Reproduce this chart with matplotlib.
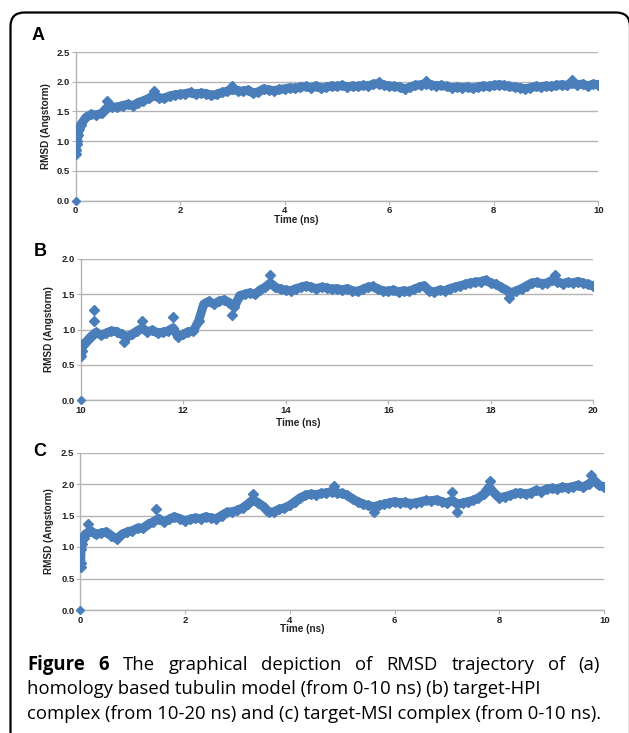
import numpy as np
import matplotlib.pyplot as plt
from matplotlib.patches import FancyBboxPatch

# ---- data (RMSD in Angstrom vs time in ns) ----
start_a_t = [0.005, 0.01, 0.02, 0.03, 0.05, 0.07]
start_a_r = [0.78, 0.85, 0.95, 1.0, 1.1, 1.2]
rmsd_a = [1.28, 1.40, 1.45, 1.44, 1.47, 1.56, 1.58, 1.57, 1.60, 1.62,
          1.60, 1.65, 1.68, 1.72, 1.77, 1.73, 1.72, 1.76, 1.78, 1.79,
          1.80, 1.82, 1.79, 1.81, 1.80, 1.77, 1.79, 1.82, 1.84, 1.87,
          1.85, 1.84, 1.86, 1.81, 1.83, 1.88, 1.86, 1.85, 1.87, 1.88,
          1.90, 1.89, 1.91, 1.92, 1.90, 1.93, 1.89, 1.91, 1.93, 1.92,
          1.94, 1.91, 1.93, 1.92, 1.94, 1.93, 1.96, 1.97, 1.94, 1.93,
          1.92, 1.91, 1.88, 1.91, 1.94, 1.95, 1.97, 1.95, 1.93, 1.94,
          1.92, 1.90, 1.91, 1.90, 1.91, 1.89, 1.91, 1.93, 1.92, 1.94,
          1.95, 1.94, 1.92, 1.91, 1.90, 1.88, 1.90, 1.92, 1.91, 1.93,
          1.92, 1.94, 1.95, 1.94, 1.98, 1.95, 1.96, 1.93, 1.96, 1.95]
spike_a_t = [1.5, 3.0, 5.8, 6.7, 9.5, 0.6]
spike_a_r = [1.85, 1.93, 2.0, 2.01, 2.03, 1.67]

start_b_t = [10.01, 10.02, 10.04, 10.06]
start_b_r = [0.62, 0.70, 0.78, 0.80]
rmsd_b = [0.82, 0.90, 0.96, 0.92, 0.95, 0.98, 0.97, 0.93, 0.90, 0.93,
          0.98, 1.02, 0.97, 0.99, 0.95, 0.96, 0.98, 1.02, 0.90, 0.93,
          0.97, 0.98, 1.12, 1.36, 1.40, 1.36, 1.40, 1.42, 1.38, 1.32,
          1.48, 1.50, 1.52, 1.50, 1.56, 1.60, 1.66, 1.60, 1.57, 1.56,
          1.55, 1.58, 1.60, 1.62, 1.60, 1.58, 1.60, 1.59, 1.57, 1.58,
          1.56, 1.58, 1.55, 1.54, 1.57, 1.60, 1.61, 1.57, 1.55, 1.54,
          1.56, 1.53, 1.55, 1.54, 1.57, 1.60, 1.62, 1.55, 1.53, 1.56,
          1.55, 1.58, 1.60, 1.62, 1.64, 1.66, 1.67, 1.68, 1.70, 1.66,
          1.64, 1.60, 1.56, 1.52, 1.55, 1.58, 1.62, 1.66, 1.67, 1.65,
          1.66, 1.70, 1.68, 1.65, 1.67, 1.66, 1.68, 1.66, 1.64, 1.62]
spike_b_t = [10.25, 10.26, 10.85, 11.2, 11.8, 12.95, 13.7, 18.35, 19.25]
spike_b_r = [1.27, 1.12, 0.82, 1.12, 1.18, 1.20, 1.78, 1.44, 1.78]

start_c_t = [0.01, 0.012, 0.02, 0.04, 0.07]
start_c_r = [0.68, 0.75, 0.97, 1.05, 1.15]
rmsd_c = [1.20, 1.26, 1.20, 1.22, 1.24, 1.18, 1.13, 1.20, 1.24, 1.26,
          1.30, 1.30, 1.36, 1.40, 1.45, 1.40, 1.44, 1.48, 1.45, 1.42,
          1.44, 1.46, 1.45, 1.48, 1.46, 1.45, 1.50, 1.55, 1.56, 1.58,
          1.62, 1.68, 1.75, 1.70, 1.64, 1.55, 1.56, 1.60, 1.62, 1.66,
          1.72, 1.78, 1.82, 1.84, 1.83, 1.85, 1.86, 1.88, 1.86, 1.85,
          1.82, 1.76, 1.72, 1.68, 1.66, 1.64, 1.66, 1.68, 1.70, 1.72,
          1.70, 1.71, 1.69, 1.70, 1.72, 1.74, 1.73, 1.75, 1.72, 1.70,
          1.74, 1.68, 1.70, 1.72, 1.74, 1.78, 1.84, 1.95, 1.86, 1.78,
          1.80, 1.82, 1.85, 1.86, 1.84, 1.86, 1.90, 1.88, 1.92, 1.93,
          1.92, 1.95, 1.94, 1.96, 1.98, 1.95, 2.00, 2.06, 1.98, 1.95]
spike_c_t = [0.15, 1.45, 3.3, 4.85, 5.6, 7.1, 7.2, 7.82, 9.75]
spike_c_r = [1.36, 1.60, 1.84, 1.97, 1.55, 1.87, 1.55, 2.05, 2.14]

caption_l1 = "The graphical depiction of RMSD trajectory of (a)"
caption_l2 = "homology based tubulin model (from 0-10 ns) (b) target-HPI"
caption_l3 = "complex (from 10-20 ns) and (c) target-MSI complex (from 0-10 ns)."

BLUE = '#4A7EBB'
GRID = '#b4b4b4'
W, H = 629, 733


def draw_panel(ax, t0, start_t, start_r, values, spike_t, spike_r, ymax, xticks):
    t = np.round(t0 + 0.1 * np.arange(1, len(values) + 1), 2)
    tt = np.concatenate([start_t, t])
    rr = np.concatenate([start_r, values])
    ax.plot(tt, rr, color=BLUE, lw=6.5, solid_joinstyle='round', solid_capstyle='round', zorder=3)
    ax.plot(tt, rr, 'D', color=BLUE, ms=5.5, zorder=3)
    ax.plot(spike_t, spike_r, 'D', color=BLUE, ms=5.5, zorder=3)
    ax.plot([t0], [0.0], 'D', color=BLUE, ms=4.5, zorder=4, clip_on=False)
    ax.set_xlim(t0, t0 + 10)
    ax.set_ylim(0, ymax)
    ax.set_xticks(xticks)
    ax.set_yticks(np.arange(0, ymax + 0.01, 0.5))
    ax.set_yticklabels(['%.1f' % v for v in np.arange(0, ymax + 0.01, 0.5)])
    ax.grid(axis='y', color=GRID, lw=1.0)
    ax.set_axisbelow(True)
    for s in ['top', 'right']:
        ax.spines[s].set_visible(False)
    for s in ['left', 'bottom']:
        ax.spines[s].set_color(GRID)
        ax.spines[s].set_linewidth(1.0)
    ax.tick_params(axis='both', colors=GRID, length=3, width=0.8, labelcolor='#222222',
                   labelsize=6.8, pad=1)
    for lab in ax.get_xticklabels() + ax.get_yticklabels():
        lab.set_fontweight('bold')
        lab.set_fontfamily('Liberation Sans')
    ax.set_xlabel('Time (ns)', fontsize=7.2, fontweight='bold', family='Liberation Sans', color='#222222')
    ax.set_ylabel('RMSD (Angstorm)', fontsize=7.2, fontweight='bold', family='Liberation Sans', color='#222222')


fig = plt.figure(figsize=(W / 100, H / 100), dpi=100)

# overlay in pixel coordinates for the frame, panel letters and caption
over = fig.add_axes([0, 0, 1, 1], zorder=-1)
over.set_xlim(0, W)
over.set_ylim(H, 0)
over.axis('off')
frame = FancyBboxPatch((10.5, 12.5), 619.5, 760, boxstyle='round,pad=0,rounding_size=14',
                       fc='white', ec='black', lw=1.6)
over.add_patch(frame)


def px_axes(left, top, right, bottom):
    return fig.add_axes([left / W, 1 - bottom / H, (right - left) / W, (bottom - top) / H])


ax_a = px_axes(75.5, 52, 598.3, 200.7)
draw_panel(ax_a, 0, start_a_t, start_a_r, rmsd_a, spike_a_t, spike_a_r, 2.5, [0, 2, 4, 6, 8, 10])
ax_b = px_axes(80.7, 259, 593.3, 400)
draw_panel(ax_b, 10, start_b_t, start_b_r, rmsd_b, spike_b_t, spike_b_r, 2.0, [10, 12, 14, 16, 18, 20])
ax_c = px_axes(80, 452.5, 604.3, 610)
draw_panel(ax_c, 0, start_c_t, start_c_r, rmsd_c, spike_c_t, spike_c_r, 2.5, [0, 2, 4, 6, 8, 10])

ax_a.xaxis.set_label_coords(0.422, -0.096)
ax_b.xaxis.set_label_coords(0.425, -0.128)
ax_c.xaxis.set_label_coords(0.423, -0.09)
ax_a.yaxis.set_label_coords(-0.047, 0.5)
ax_b.yaxis.set_label_coords(-0.052, 0.5)
ax_c.yaxis.set_label_coords(-0.050, 0.5)

for letter, (lx, ly) in zip('ABC', [(38.5, 36), (40, 251.5), (40, 451.5)]):
    over.text(lx, ly, letter, fontsize=13, fontweight='bold', family='Liberation Sans',
              ha='center', va='center')

# caption: size fitted so the last line spans the measured width, first line justified
renderer = fig.canvas.get_renderer()
left, right = 27, 600
probe = over.text(left, 719, caption_l3, fontsize=12, family='Open Sans', va='baseline', ha='left')
cap_size = 12 * 572 / probe.get_window_extent(renderer).width
probe.set_fontsize(cap_size)

words = [('Figure', 'bold'), ('6', 'bold')] + [(w, 'normal') for w in caption_l1.split()]
texts = []
for w, wt in words:
    texts.append(over.text(0, 670, w, fontsize=cap_size, family='Open Sans', fontweight=wt,
                           va='baseline', ha='left'))
widths = [tx.get_window_extent(renderer).width for tx in texts]
gap = (right - left - sum(widths)) / (len(words) - 1)
x = left
for tx, wdt in zip(texts, widths):
    tx.set_x(x)
    x += wdt + gap
over.text(left, 694.5, caption_l2, fontsize=cap_size, family='Open Sans', va='baseline', ha='left')

fig.savefig('out.png', dpi=100)
